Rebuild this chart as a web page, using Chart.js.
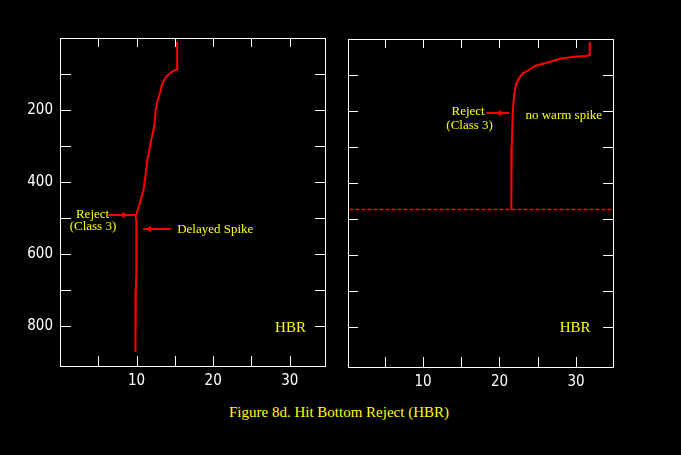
<!DOCTYPE html>
<html lang="en">
<head>
<meta charset="UTF-8">
<title>Figure 8d. Hit Bottom Reject (HBR)</title>
<script src="https://cdn.jsdelivr.net/npm/chart.js"></script>
<style>
  body { margin: 0; background: #000; width: 681px; height: 455px; overflow: hidden; position: relative; }
  .panel { position: absolute; }
  #left { left: 0; top: 0; }
  #right { left: 300px; top: 1px; }
  #caption { position: absolute; left: 0; width: 678px; top: 404px; text-align: center;
             color: #ff0; font: 15px "Liberation Serif", serif; }
</style>
</head>
<body>
<div class="panel" id="left"><canvas id="c1" width="340" height="400"></canvas></div>
<div class="panel" id="right"><canvas id="c2" width="330" height="400"></canvas></div>
<div id="caption">Figure 8d. Hit Bottom Reject (HBR)</div>
<script>
// temperature (x) against depth (y, downwards)
var leftTemp  = [15.3, 15.3, 15.2, 14.8, 14.3, 13.9, 13.6, 13.3, 13.1, 12.9, 12.7, 12.5, 12.3, 12.1, 11.9, 11.6, 11.4, 11.2, 10.9, 10.5, 10.2, 9.9, 9.9, 10.0, 10.0, 9.95, 9.9, 9.85, 9.85];
var leftDepth = [10, 87, 89, 91, 99, 107, 117, 130, 149, 163, 177, 200, 246, 265, 283, 320, 339, 376, 422, 452, 473, 492, 500, 515, 600, 650, 700, 800, 871];

var rightTemp  = [31.8, 31.8, 31.3, 29.8, 28.05, 26.3, 24.6, 23.7, 23.05, 22.4, 22.1, 21.9, 21.75, 21.6, 21.55, 21.55];
var rightDepth = [8, 45, 47, 49, 54, 65, 75, 88, 95, 114, 132, 160, 197, 299, 470, 473];

// hit-bottom trace along the bottom depth
var bottomTemp  = [0.4, 34.8];
var bottomDepth = [473, 473];

var xTicks  = [5, 10, 15, 20, 25, 30];
var xLabels = [10, 20, 30];
var yTicks  = [100, 200, 300, 400, 500, 600, 700, 800];
var yLabels = [200, 400, 600, 800];

var tickFont = { family: '"Liberation Sans Narrow", "DejaVu Sans Condensed", sans-serif', size: 15 };
var noteFont = '13px "Liberation Serif", serif';

function pts(xs, ys) {
    return xs.map(function(v, i) { return { x: v, y: ys[i] }; });
}

// box, inward ticks on all sides, and the yellow notes
var frame = {
    id: 'frame',
    afterDatasetsDraw: function(chart, args, opts) {
        var ctx = chart.ctx, a = chart.chartArea;
        var x = chart.scales.x, y = chart.scales.y;
        ctx.save();
        ctx.strokeStyle = '#fff';
        ctx.lineWidth = 1;
        ctx.strokeRect(a.left + 0.5, a.top + 0.5, a.right - a.left, a.bottom - a.top);
        ctx.beginPath();
        xTicks.forEach(function(v) {
            var p = Math.round(x.getPixelForValue(v)) + 0.5;
            ctx.moveTo(p, a.top); ctx.lineTo(p, a.top + 9);
            ctx.moveTo(p, a.bottom); ctx.lineTo(p, a.bottom - 10);
        });
        yTicks.forEach(function(v) {
            var p = Math.round(y.getPixelForValue(v)) + 0.5;
            ctx.moveTo(a.left, p); ctx.lineTo(a.left + opts.leftTick, p);
            ctx.moveTo(a.right, p); ctx.lineTo(a.right - 10, p);
        });
        ctx.stroke();

        // arrows
        ctx.strokeStyle = '#ff0000';
        ctx.fillStyle = '#ff0000';
        ctx.lineWidth = 2;
        (opts.arrows || []).forEach(function(ar) {
            var py = Math.round(y.getPixelForValue(ar.y));
            ctx.beginPath();
            ctx.moveTo(x.getPixelForValue(ar.x1), py);
            ctx.lineTo(x.getPixelForValue(ar.x2), py);
            ctx.stroke();
            var hx = x.getPixelForValue(ar.head);
            ctx.beginPath();
            ctx.moveTo(hx, py);
            ctx.lineTo(hx - ar.dir * 6, py - 3);
            ctx.lineTo(hx - ar.dir * 6, py + 3);
            ctx.closePath();
            ctx.fill();
        });

        // notes
        ctx.fillStyle = '#ffff00';
        ctx.textBaseline = 'middle';
        (opts.notes || []).forEach(function(n) {
            ctx.font = n.font || noteFont;
            ctx.textAlign = n.align || 'left';
            ctx.fillText(n.text, x.getPixelForValue(n.x), y.getPixelForValue(n.y));
        });
        ctx.restore();
    }
};

function makeScales(xmin, xmax, yWidth, showY) {
    return {
        x: {
            type: 'linear', min: xmin, max: xmax,
            afterBuildTicks: function(s) { s.ticks = xTicks.map(function(v) { return { value: v }; }); },
            afterFit: function(s) { s.height = 34; },
            grid: { display: false, drawTicks: false },
            border: { display: false },
            ticks: {
                color: '#fff', font: tickFont, padding: 6, maxRotation: 0, autoSkip: false,
                callback: function(v) { return xLabels.indexOf(v) >= 0 ? String(v) : ''; }
            }
        },
        y: {
            type: 'linear', min: 0, max: 910, reverse: true,
            afterBuildTicks: function(s) { s.ticks = yTicks.map(function(v) { return { value: v }; }); },
            afterFit: function(s) { s.width = yWidth; },
            grid: { display: false, drawTicks: false },
            border: { display: false },
            ticks: {
                display: showY, color: '#fff', font: tickFont, padding: 7, autoSkip: false,
                callback: function(v) { return yLabels.indexOf(v) >= 0 ? String(v) : ''; }
            }
        }
    };
}

var common = {
    responsive: false,
    animation: false,
    events: [],
    elements: { point: { radius: 0 }, line: { tension: 0 } },
    plugins: { legend: { display: false }, tooltip: { enabled: false } }
};

new Chart(document.getElementById('c1'), {
    type: 'line',
    data: {
        datasets: [{
            data: pts(leftTemp, leftDepth),
            borderColor: '#ff0000', borderWidth: 2
        }]
    },
    options: Object.assign({}, common, {
        layout: { padding: { top: 38, right: 15, left: 0, bottom: 0 } },
        scales: makeScales(0, 34.6, 60, true),
        plugins: Object.assign({}, common.plugins, {
            frame: {
                leftTick: 11,
                arrows: [
                    { x1: 6.3, x2: 9.8, y: 492, head: 8.9, dir: 1 },
                    { x1: 10.85, x2: 14.5, y: 531, head: 11.1, dir: -1 }
                ],
                notes: [
                    { text: 'Reject', x: 4.25, y: 490, align: 'center' },
                    { text: '(Class 3)', x: 4.3, y: 523, align: 'center' },
                    { text: 'Delayed Spike', x: 15.3, y: 531 },
                    { text: 'HBR', x: 30.1, y: 805, align: 'center', font: '15px "Liberation Serif", serif' }
                ]
            }
        })
    }),
    plugins: [frame]
});

new Chart(document.getElementById('c2'), {
    type: 'line',
    data: {
        datasets: [{
            data: pts(rightTemp, rightDepth),
            borderColor: '#ff0000', borderWidth: 2
        }, {
            data: pts(bottomTemp, bottomDepth),
            borderColor: '#ff0000', borderWidth: 1.5, borderDash: [4, 2]
        }]
    },
    options: Object.assign({}, common, {
        layout: { padding: { top: 38, right: 17, left: 0, bottom: 0 } },
        scales: makeScales(0.2, 34.84, 48, false),
        plugins: Object.assign({}, common.plugins, {
            frame: {
                leftTick: 10,
                arrows: [
                    { x1: 18.3, x2: 21.3, y: 204, head: 20.7, dir: 1 }
                ],
                notes: [
                    { text: 'Reject', x: 15.9, y: 200, align: 'center' },
                    { text: '(Class 3)', x: 16.1, y: 240, align: 'center' },
                    { text: 'no warm spike', x: 23.4, y: 212 },
                    { text: 'HBR', x: 29.9, y: 802, align: 'center', font: '15px "Liberation Serif", serif' }
                ]
            }
        })
    }),
    plugins: [frame]
});
</script>
</body>
</html>
